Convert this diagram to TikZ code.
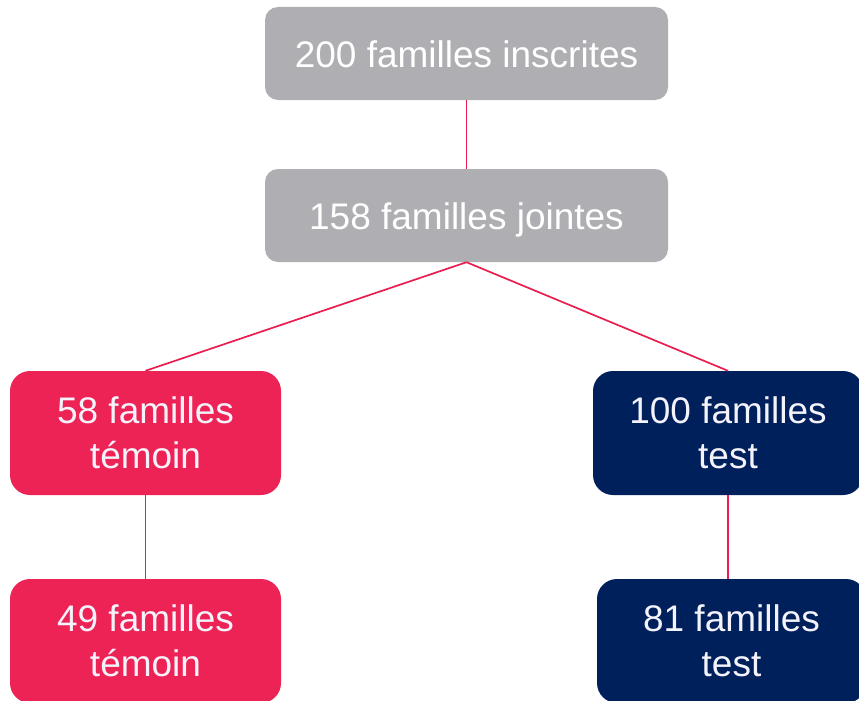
\documentclass[tikz,border=0pt]{standalone}
\usepackage{fontspec}
\setmainfont{Liberation Sans}
\definecolor{greyc}{HTML}{AFAEB2}
\definecolor{pinkc}{HTML}{EE2355}
\definecolor{navyc}{HTML}{00205C}
\definecolor{linec}{HTML}{E91E4F}
\definecolor{txtc}{HTML}{F4F2FA}
\tikzset{
  box/.style={inner sep=0pt, text=txtc, font=\fontsize{37}{45}\selectfont, align=center},
  greybox/.style={box, fill=greyc, text=white, rounded corners=13pt, minimum width=403pt, minimum height=93pt, text height=27pt, text depth=0pt},
  colbox/.style={box, rounded corners=20pt, minimum height=124pt},
  conn/.style={draw=linec, line width=1.7pt}
}
\begin{document}
\begin{tikzpicture}[x=1pt,y=-1pt]
\useasboundingbox (0,0) rectangle (859,701);
\clip (0,0) rectangle (859,701);
\node[greybox] (a) at (466.5,53.5) {200 familles inscrites};
\node[greybox] (b) at (466.5,215.5) {158 familles jointes};
\node[colbox, fill=pinkc, minimum width=271pt] (c) at (145.5,433) {58 familles\\témoin};
\node[colbox, fill=navyc, minimum width=270pt] (d) at (728,433) {100 familles\\test};
\node[colbox, fill=pinkc, minimum width=271pt] (e) at (145.5,641) {49 familles\\témoin};
\node[colbox, fill=navyc, minimum width=269pt] (f) at (731.5,641) {81 familles\\test};
\draw[conn] (a.south) -- (b.north);
\draw[conn] (b.south) -- (c.north);
\draw[conn] (b.south) -- (d.north);
\draw[conn] (c.south) -- (e.north);
\draw[conn] (d.south) -- (d.south |- f.north);
\end{tikzpicture}
\end{document}
